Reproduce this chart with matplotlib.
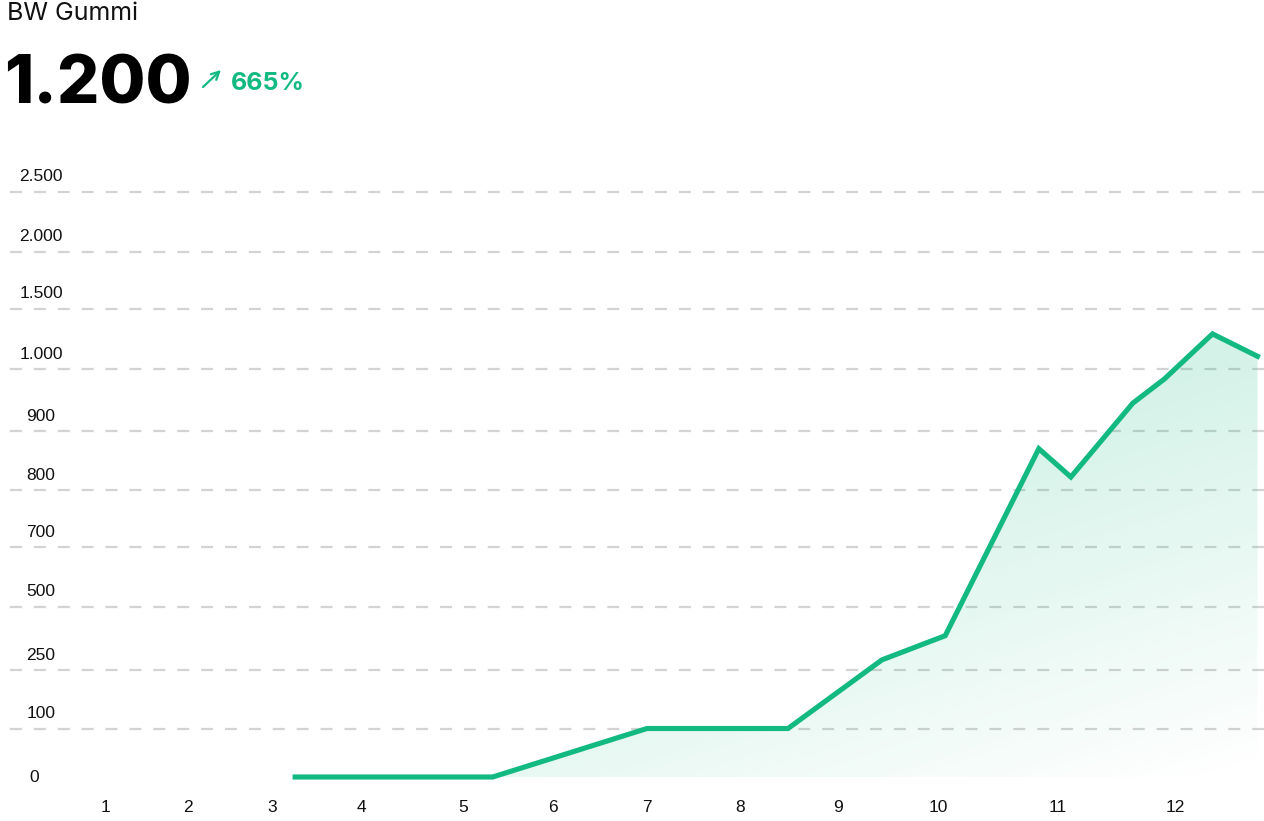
import numpy as np
import matplotlib
matplotlib.use("Agg")
import matplotlib.pyplot as plt
from matplotlib.colors import to_rgb

# data
months = [3.26, 5.33, 7.0, 8.49, 9.44, 10.06, 10.84, 11.11, 11.64, 11.91, 12.30, 12.66]
values = [0, 0, 100, 100, 290, 385, 870, 822, 945, 984, 1290, 1105]
y_ticks = [100, 250, 500, 700, 800, 900, 1000, 1500, 2000, 2500]
y_labels = ["100", "250", "500", "700", "800", "900", "1.000", "1.500", "2.000", "2.500"]
x_ticks = list(range(1, 13))
title = "BW Gummi"
headline = "1.200"
change = "665%"

GREEN = "#12b981"
W, H = 1264, 821
plt.rcParams["lines.scale_dashes"] = False
plt.rcParams["font.family"] = ["Liberation Sans", "DejaVu Sans"]

# irregular scales: value -> height in pixels from the bottom, month -> pixel x
y_vals = [-100, 0, 100, 250, 500, 700, 800, 900, 1000, 1500, 2000, 2500, 4500]
y_pix = [824, 777, 728.5, 670, 606.5, 547, 490, 431, 369, 308.5, 251.5, 191.5, -47]
y_h = [H - p for p in y_pix]
x_m = [-1, 0, 1, 2, 3, 4, 5, 6, 7, 8, 9, 10, 11, 12, 13]
x_pix = [-61, 22, 105, 188, 272, 361, 463, 553, 647, 740, 838, 938, 1058, 1175, 1300]


def yf(v):
    return np.interp(v, y_vals, y_h)


def yi(h):
    return np.interp(h, y_h, y_vals)


def xf(m):
    return np.interp(m, x_m, x_pix)


def xi(p):
    return np.interp(p, x_pix, x_m)


fig = plt.figure(figsize=(W / 100, H / 100), dpi=100)
ax = fig.add_axes([0, 0, 1, 1])
ax.set_xscale("function", functions=(xf, xi))
ax.set_yscale("function", functions=(yf, yi))
ax.axis("off")

# grid
for v in y_ticks:
    ax.axhline(v, xmin=10 / W, xmax=1, color="#d3d3d3", lw=1.6,
               dashes=(8.6, 8.6), zorder=1)

# gradient fill under the line
poly = ax.fill_between(months, 0, values, color="none", lw=0, zorder=2)
gx, gy = np.meshgrid(np.linspace(0, W, 400), np.linspace(0, H, 260))
s = 0.000767 * gx + 0.0024 * gy - 1.807
grad = np.zeros(gx.shape + (4,))
grad[..., :3] = to_rgb(GREEN)
grad[..., 3] = 0.18 * np.clip(1 - s, 0, 1)
img = ax.imshow(grad, extent=[0, 1, 0, 1], transform=ax.transAxes,
                aspect="auto", interpolation="bilinear", zorder=2)
img.set_clip_path(poly.get_paths()[0], transform=ax.transData)

ax.plot(months, values, color=GREEN, lw=3.7, zorder=3, solid_joinstyle="miter")

ax.set_xlim(xi(0), xi(W))
ax.set_ylim(yi(0), yi(H))

# tick labels
FS = 12.5
for v, lab in zip(y_ticks, y_labels):
    ax.annotate(lab, xy=(41 / W, v), xycoords=("axes fraction", "data"),
                xytext=(0, 15), textcoords="offset pixels",
                ha="center", va="center", fontsize=FS, color="#111111")
ax.annotate("0", xy=(34 / W, 0), xycoords=("axes fraction", "data"),
            ha="center", va="center", fontsize=FS, color="#111111")
for m in x_ticks:
    ax.annotate(str(m), xy=(m, (H - 807) / H), xycoords=("data", "axes fraction"),
                ha="center", va="center", fontsize=FS, color="#111111")

# header
fig.text(7 / W, 1 - 14 / H, title, fontsize=18, family="Inter",
         ha="left", va="center", color="#111111")
fig.text(4 / W, 1 - 103 / H, headline, fontsize=48, family="Inter",
         weight="heavy", ha="left", va="baseline", color="#000000")
fig.text(231 / W, 1 - 90 / H, change, fontsize=18, family="Inter",
         weight="bold", ha="left", va="baseline", color=GREEN)
ax.annotate("", xy=(221, H - 70), xytext=(203, H - 87),
            xycoords="figure pixels", textcoords="figure pixels",
            arrowprops=dict(arrowstyle="->", color=GREEN, lw=1.6,
                            shrinkA=0, shrinkB=0, mutation_scale=14))

fig.savefig("out.png", dpi=100)
